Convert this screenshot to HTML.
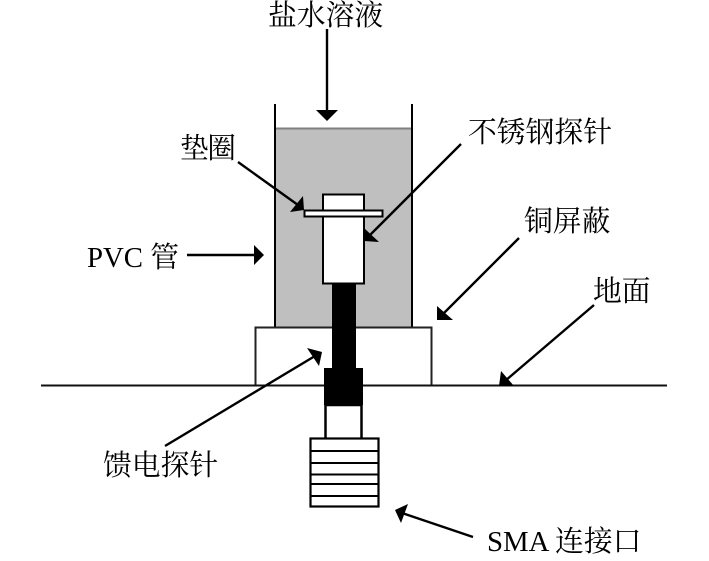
<!DOCTYPE html>
<html><head><meta charset="utf-8"><style>
html,body{margin:0;padding:0;background:#fff}
svg{display:block}
text{font-family:"Liberation Serif","Noto Serif CJK SC",serif;font-size:28.8px;fill:#000}
</style></head><body>
<svg width="709" height="561" viewBox="0 0 709 561" xmlns="http://www.w3.org/2000/svg">
<rect x="276" y="129" width="136" height="198" fill="#bfbfbf"/>
<line x1="276" y1="128.5" x2="412" y2="128.5" stroke="#808080" stroke-width="2"/>
<path d="M275 104V327M412 104V327" stroke="#000" stroke-width="2" fill="none"/>
<rect x="255.500" y="327.500" width="176" height="58" fill="#fff" stroke="#222" stroke-width="2"/>
<line x1="41" y1="385.500" x2="667" y2="385.500" stroke="#111" stroke-width="2"/>
<rect x="323" y="194.500" width="41" height="89" fill="#fff" stroke="#000" stroke-width="2"/>
<rect x="304.500" y="210.500" width="78" height="6" fill="#fff" stroke="#000" stroke-width="2"/>
<rect x="332" y="284" width="24" height="84" fill="#000"/>
<rect x="324" y="368" width="39" height="37" fill="#000"/>
<rect x="325.500" y="405" width="36" height="34" fill="#fff" stroke="#000" stroke-width="2.500"/>
<rect x="310.500" y="438.500" width="68" height="68" fill="#fff" stroke="#000" stroke-width="2.200"/>
<path d="M310 451H378M310 463H378M310 474.500H378M310 484H378M310 496H378" stroke="#000" stroke-width="2"/>
<g stroke="#000" stroke-width="2.400" fill="none">
<line x1="327" y1="29" x2="327" y2="112"/>
<line x1="238" y1="162" x2="298" y2="205"/>
<line x1="461" y1="144" x2="370" y2="235"/>
<line x1="187" y1="255" x2="256" y2="255"/>
<line x1="519" y1="238" x2="442" y2="315"/>
<line x1="594" y1="305" x2="505" y2="381"/>
<line x1="165" y1="446" x2="315" y2="356"/>
<line x1="473" y1="537" x2="402" y2="513"/>
</g>
<g fill="#000">
<polygon points="316,110 338,110 327,121"/>
<polygon points="303,196 290,212 304,210"/>
<polygon points="364,228 379,242 364,241"/>
<polygon points="254,245 264,255 254,265"/>
<polygon points="437,306 453,320 437,320"/>
<polygon points="501,371 514,386 499,386"/>
<polygon points="307,348 322,352 319,366"/>
<polygon points="408,504 395,510 401,523"/>
</g>
<text x="268" y="25">盐水溶液</text>
<text x="180" y="158" textLength="56">垫圈</text>
<text x="468" y="142">不锈钢探针</text>
<text x="524" y="231">铜屏蔽</text>
<text x="593" y="301">地面</text>
<text x="87" y="267">PVC 管</text>
<text x="103" y="475">馈电探针</text>
<text x="487" y="551">SMA 连接口</text>
</svg>
</body></html>
